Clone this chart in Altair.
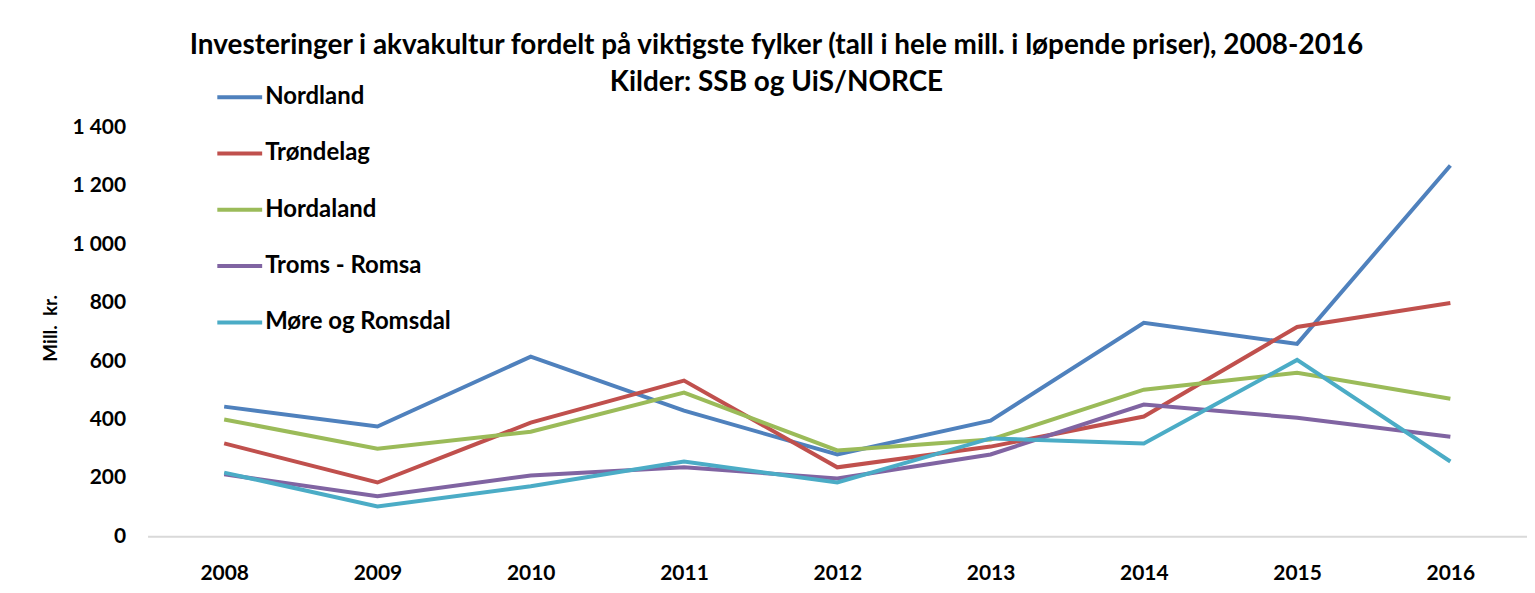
import altair as alt
import pandas as pd

years = ["2008", "2009", "2010", "2011", "2012", "2013", "2014", "2015", "2016"]
series_names = ["Nordland", "Trøndelag", "Hordaland", "Troms - Romsa", "Møre og Romsdal"]
nordland = [444, 376, 615, 430, 280, 396, 731, 659, 1270]
trondelag = [318, 184, 389, 533, 236, 307, 410, 717, 799]
hordaland = [400, 300, 358, 492, 294, 331, 502, 560, 471]
troms = [212, 137, 208, 236, 198, 280, 451, 406, 341]
more = [218, 102, 171, 256, 184, 335, 318, 604, 256]
colors = ["#4F81BD", "#C0504D", "#9BBB59", "#8064A2", "#4BACC6"]

rows = []
for name, vals in zip(series_names, [nordland, trondelag, hordaland, troms, more]):
    for y, v in zip(years, vals):
        rows.append({"year": y, "value": v, "series": name})
df = pd.DataFrame(rows)

FONT = "Lato"

chart = alt.Chart(df).mark_line(strokeWidth=4).encode(
    x=alt.X("year:O", sort=years, title=None,
            axis=alt.Axis(labelAngle=0, ticks=False, domain=True, domainColor="#D9D9D9",
                          domainWidth=2, labelFontSize=21, labelFont=FONT, labelFontWeight="bold",
                          labelColor="#000000", labelPadding=26, grid=False)),
    y=alt.Y("value:Q", scale=alt.Scale(domain=[0, 1400], nice=False), title="Mill.\u00a0\u00a0kr.",
            axis=alt.Axis(values=[0, 200, 400, 600, 800, 1000, 1200, 1400], ticks=False, domain=False,
                          grid=False, labelFontSize=21, labelFont=FONT, labelFontWeight="bold",
                          labelColor="#000000", labelPadding=22,
                          labelExpr="replace(format(datum.value, ','), ',', ' ')",
                          titleFont=FONT, titleFontSize=19, titleFontWeight="bold", titleColor="#000000",
                          titleAngle=-90, titleX=-97, titleY=201, titleAlign="center",
                          titleBaseline="middle")),
    color=alt.Color("series:N", sort=series_names,
                    scale=alt.Scale(domain=series_names, range=colors),
                    legend=alt.Legend(title=None, orient="none", legendX=68, legendY=-55,
                                      symbolType="stroke", symbolSize=2025, symbolStrokeWidth=4,
                                      labelFont=FONT, labelFontSize=24, labelFontWeight="bold",
                                      labelColor="#000000", labelOffset=1, rowPadding=19.5,
                                      labelLimit=0, padding=0)),
).properties(
    width=1384,
    height=410,
    autosize=alt.AutoSizeParams(type="none"),
    padding={"left": 140, "top": 119, "right": 0, "bottom": 48},
    title=alt.Title(
        text=["Investeringer i akvakultur fordelt på viktigste fylker (tall i hele mill. i løpende priser), 2008-2016",
              "Kilder: SSB og UiS/NORCE"],
        anchor="middle", dx=-61, font=FONT, fontSize=28, fontWeight="bold", color="#000000",
        lineHeight=37, offset=-24,
    ),
).configure(background="white", view=alt.ViewConfig(stroke=None))

chart.save("out.html", embed_options={"renderer": "svg", "actions": False})
